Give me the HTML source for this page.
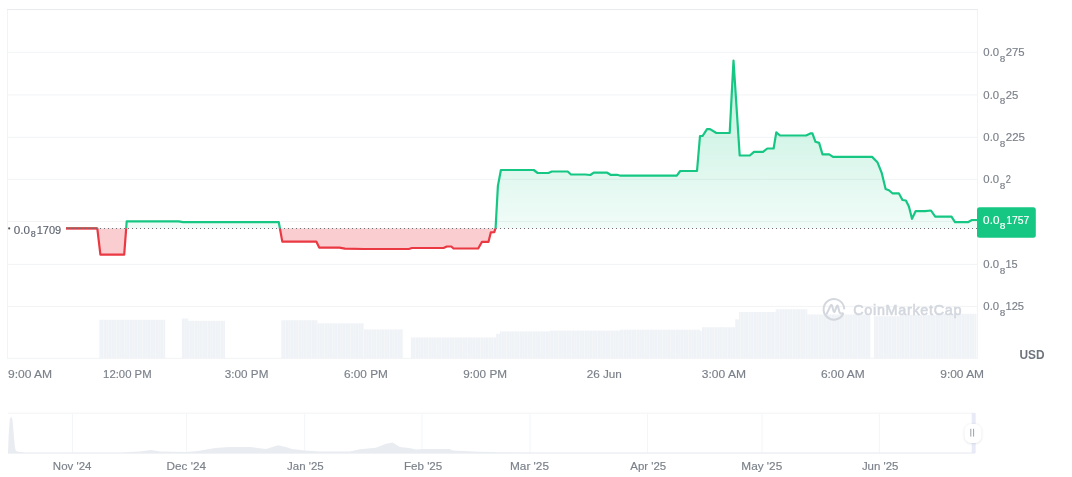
<!DOCTYPE html>
<html><head><meta charset="utf-8"><title>Chart</title>
<style>html,body{margin:0;padding:0;background:#fff;width:1072px;height:477px;overflow:hidden}svg{display:block}</style>
</head><body>
<svg width="1072" height="477" viewBox="0 0 1072 477" font-family="Liberation Sans, sans-serif">
<defs>
<linearGradient id="gg" x1="0" y1="60" x2="0" y2="228.3" gradientUnits="userSpaceOnUse"><stop offset="0" stop-color="#16c784" stop-opacity="0.28"/><stop offset="1" stop-color="#16c784" stop-opacity="0.06"/></linearGradient>
<clipPath id="cu"><rect x="0" y="0" width="1072" height="228.3"/></clipPath>
<clipPath id="cd"><rect x="0" y="228.3" width="1072" height="200"/></clipPath>
<pattern id="vp" x="0" y="0" width="2.6" height="10" patternUnits="userSpaceOnUse"><rect x="0" y="0" width="2.6" height="10" fill="#eff2f6"/><rect x="2.0" y="0" width="0.6" height="10" fill="#f7f8fa"/></pattern>
</defs>
<rect x="7.5" y="9.5" width="970" height="348.8" fill="none" stroke="#f1f3f5" stroke-width="1"/>
<line x1="7" y1="9.5" x2="978" y2="9.5" stroke="#e9ebee" stroke-width="1"/>
<line x1="8" y1="52.3" x2="977" y2="52.3" stroke="#f1f3f5" stroke-width="1"/>
<line x1="8" y1="94.9" x2="977" y2="94.9" stroke="#f1f3f5" stroke-width="1"/>
<line x1="8" y1="137.3" x2="977" y2="137.3" stroke="#f1f3f5" stroke-width="1"/>
<line x1="8" y1="179.3" x2="977" y2="179.3" stroke="#f1f3f5" stroke-width="1"/>
<line x1="8" y1="221.5" x2="977" y2="221.5" stroke="#f1f3f5" stroke-width="1"/>
<line x1="8" y1="264.4" x2="977" y2="264.4" stroke="#f1f3f5" stroke-width="1"/>
<line x1="8" y1="306.4" x2="977" y2="306.4" stroke="#f1f3f5" stroke-width="1"/>
<rect x="99.4" y="319.8" width="65.8" height="38.5" fill="url(#vp)"/>
<rect x="181.9" y="318.5" width="6.2" height="39.8" fill="url(#vp)"/>
<rect x="188.1" y="320.8" width="36.9" height="37.5" fill="url(#vp)"/>
<rect x="281.3" y="320.2" width="36.2" height="38.1" fill="url(#vp)"/>
<rect x="317.5" y="323.3" width="46.3" height="35.0" fill="url(#vp)"/>
<rect x="363.8" y="329.4" width="39.3" height="28.9" fill="url(#vp)"/>
<rect x="410.9" y="337.4" width="85.1" height="20.9" fill="url(#vp)"/>
<rect x="496" y="333.8" width="4.0" height="24.5" fill="url(#vp)"/>
<rect x="500" y="331.4" width="50.0" height="26.9" fill="url(#vp)"/>
<rect x="550" y="330.6" width="70.0" height="27.7" fill="url(#vp)"/>
<rect x="620" y="329.7" width="80.0" height="28.6" fill="url(#vp)"/>
<rect x="700" y="330.9" width="2.0" height="27.4" fill="url(#vp)"/>
<rect x="702" y="327.2" width="33.0" height="31.1" fill="url(#vp)"/>
<rect x="735" y="319.3" width="4.0" height="39.0" fill="url(#vp)"/>
<rect x="739" y="312" width="36.8" height="46.3" fill="url(#vp)"/>
<rect x="775.8" y="309.2" width="31.5" height="49.1" fill="url(#vp)"/>
<rect x="807.3" y="314.4" width="63.1" height="43.9" fill="url(#vp)"/>
<rect x="874" y="316.2" width="26.0" height="42.1" fill="url(#vp)"/>
<rect x="900" y="315" width="40.0" height="43.3" fill="url(#vp)"/>
<rect x="940" y="313.8" width="36.5" height="44.5" fill="url(#vp)"/>
<g opacity="1">
<path d="M843.2,313.8 A10.3,10.3 0 1 1 844.2,308.6" fill="none" stroke="#d3d7de" stroke-width="2" stroke-linecap="round"/>
<path d="M826.8,313.6 L830.6,305.6 Q831.3,304.4 832,305.6 L833.6,311.2 Q834.2,312.6 834.9,311.2 L836.8,306.2 Q837.4,305 838,306.2 L839.3,311.6 Q840.2,314.2 842.6,313.2" fill="none" stroke="#d3d7de" stroke-width="2" stroke-linejoin="round" stroke-linecap="round"/>
<text x="853.2" y="315.4" font-size="14.4" letter-spacing="0.7" fill="#d3d7de" stroke="#d3d7de" stroke-width="0.6">CoinMarketCap</text>
</g>
<path d="M66.0,228.3 L97.3,228.3 L100.4,254.6 L124.2,254.6 L126.7,221.4 L178.6,221.4 L183.0,222.2 L278.8,222.2 L282.3,241.6 L316.3,241.6 L319.2,247.6 L339.4,247.6 L345.0,248.7 L364.0,249.0 L408.8,249.0 L412.0,248.0 L443.5,248.0 L446.9,246.5 L451.3,246.5 L453.5,248.5 L478.2,248.5 L482.0,241.8 L488.5,241.8 L490.8,232.4 L494.3,232.2 L495.6,228.0 L497.9,185.9 L500.9,170.0 L533.7,170.0 L537.7,173.0 L548.4,173.0 L551.8,171.5 L567.7,171.5 L571.0,174.5 L585.3,174.5 L590.4,175.0 L593.7,172.7 L607.2,172.7 L610.5,174.8 L617.2,174.8 L620.6,175.7 L676.8,175.7 L680.2,171.0 L697.0,171.0 L700.0,136.0 L702.6,136.0 L707.0,129.1 L710.0,129.1 L716.4,133.0 L729.7,133.0 L733.5,60.6 L739.7,155.5 L749.8,155.5 L754.0,151.8 L763.0,151.8 L767.3,148.5 L773.6,148.5 L776.3,132.4 L780.0,135.5 L806.1,135.5 L810.3,133.4 L812.4,133.4 L815.5,141.8 L819.1,142.9 L822.5,154.4 L829.2,154.4 L833.0,156.9 L872.1,156.9 L877.4,162.2 L881.6,172.6 L885.6,189.0 L888.9,190.2 L892.4,193.3 L898.8,193.3 L902.5,200.0 L905.9,200.5 L908.9,206.5 L912.0,218.8 L915.7,211.1 L925.0,211.1 L931.0,210.5 L935.2,216.7 L951.5,216.7 L955.0,222.2 L967.9,222.2 L972.0,220.0 L977.0,220.0 L977.0,228.3 L66.0,228.3 Z" fill="url(#gg)" clip-path="url(#cu)"/>
<path d="M66.0,228.3 L97.3,228.3 L100.4,254.6 L124.2,254.6 L126.7,221.4 L178.6,221.4 L183.0,222.2 L278.8,222.2 L282.3,241.6 L316.3,241.6 L319.2,247.6 L339.4,247.6 L345.0,248.7 L364.0,249.0 L408.8,249.0 L412.0,248.0 L443.5,248.0 L446.9,246.5 L451.3,246.5 L453.5,248.5 L478.2,248.5 L482.0,241.8 L488.5,241.8 L490.8,232.4 L494.3,232.2 L495.6,228.0 L497.9,185.9 L500.9,170.0 L533.7,170.0 L537.7,173.0 L548.4,173.0 L551.8,171.5 L567.7,171.5 L571.0,174.5 L585.3,174.5 L590.4,175.0 L593.7,172.7 L607.2,172.7 L610.5,174.8 L617.2,174.8 L620.6,175.7 L676.8,175.7 L680.2,171.0 L697.0,171.0 L700.0,136.0 L702.6,136.0 L707.0,129.1 L710.0,129.1 L716.4,133.0 L729.7,133.0 L733.5,60.6 L739.7,155.5 L749.8,155.5 L754.0,151.8 L763.0,151.8 L767.3,148.5 L773.6,148.5 L776.3,132.4 L780.0,135.5 L806.1,135.5 L810.3,133.4 L812.4,133.4 L815.5,141.8 L819.1,142.9 L822.5,154.4 L829.2,154.4 L833.0,156.9 L872.1,156.9 L877.4,162.2 L881.6,172.6 L885.6,189.0 L888.9,190.2 L892.4,193.3 L898.8,193.3 L902.5,200.0 L905.9,200.5 L908.9,206.5 L912.0,218.8 L915.7,211.1 L925.0,211.1 L931.0,210.5 L935.2,216.7 L951.5,216.7 L955.0,222.2 L967.9,222.2 L972.0,220.0 L977.0,220.0 L977.0,228.3 L66.0,228.3 Z" fill="#ea3943" fill-opacity="0.25" clip-path="url(#cd)"/>
<path d="M66.0,228.3 L97.3,228.3 L100.4,254.6 L124.2,254.6 L126.7,221.4 L178.6,221.4 L183.0,222.2 L278.8,222.2 L282.3,241.6 L316.3,241.6 L319.2,247.6 L339.4,247.6 L345.0,248.7 L364.0,249.0 L408.8,249.0 L412.0,248.0 L443.5,248.0 L446.9,246.5 L451.3,246.5 L453.5,248.5 L478.2,248.5 L482.0,241.8 L488.5,241.8 L490.8,232.4 L494.3,232.2 L495.6,228.0 L497.9,185.9 L500.9,170.0 L533.7,170.0 L537.7,173.0 L548.4,173.0 L551.8,171.5 L567.7,171.5 L571.0,174.5 L585.3,174.5 L590.4,175.0 L593.7,172.7 L607.2,172.7 L610.5,174.8 L617.2,174.8 L620.6,175.7 L676.8,175.7 L680.2,171.0 L697.0,171.0 L700.0,136.0 L702.6,136.0 L707.0,129.1 L710.0,129.1 L716.4,133.0 L729.7,133.0 L733.5,60.6 L739.7,155.5 L749.8,155.5 L754.0,151.8 L763.0,151.8 L767.3,148.5 L773.6,148.5 L776.3,132.4 L780.0,135.5 L806.1,135.5 L810.3,133.4 L812.4,133.4 L815.5,141.8 L819.1,142.9 L822.5,154.4 L829.2,154.4 L833.0,156.9 L872.1,156.9 L877.4,162.2 L881.6,172.6 L885.6,189.0 L888.9,190.2 L892.4,193.3 L898.8,193.3 L902.5,200.0 L905.9,200.5 L908.9,206.5 L912.0,218.8 L915.7,211.1 L925.0,211.1 L931.0,210.5 L935.2,216.7 L951.5,216.7 L955.0,222.2 L967.9,222.2 L972.0,220.0 L977.0,220.0" fill="none" stroke="#16c784" stroke-width="2.2" stroke-linejoin="round" clip-path="url(#cu)"/>
<path d="M66.0,228.3 L97.3,228.3 L100.4,254.6 L124.2,254.6 L126.7,221.4 L178.6,221.4 L183.0,222.2 L278.8,222.2 L282.3,241.6 L316.3,241.6 L319.2,247.6 L339.4,247.6 L345.0,248.7 L364.0,249.0 L408.8,249.0 L412.0,248.0 L443.5,248.0 L446.9,246.5 L451.3,246.5 L453.5,248.5 L478.2,248.5 L482.0,241.8 L488.5,241.8 L490.8,232.4 L494.3,232.2 L495.6,228.0 L497.9,185.9 L500.9,170.0 L533.7,170.0 L537.7,173.0 L548.4,173.0 L551.8,171.5 L567.7,171.5 L571.0,174.5 L585.3,174.5 L590.4,175.0 L593.7,172.7 L607.2,172.7 L610.5,174.8 L617.2,174.8 L620.6,175.7 L676.8,175.7 L680.2,171.0 L697.0,171.0 L700.0,136.0 L702.6,136.0 L707.0,129.1 L710.0,129.1 L716.4,133.0 L729.7,133.0 L733.5,60.6 L739.7,155.5 L749.8,155.5 L754.0,151.8 L763.0,151.8 L767.3,148.5 L773.6,148.5 L776.3,132.4 L780.0,135.5 L806.1,135.5 L810.3,133.4 L812.4,133.4 L815.5,141.8 L819.1,142.9 L822.5,154.4 L829.2,154.4 L833.0,156.9 L872.1,156.9 L877.4,162.2 L881.6,172.6 L885.6,189.0 L888.9,190.2 L892.4,193.3 L898.8,193.3 L902.5,200.0 L905.9,200.5 L908.9,206.5 L912.0,218.8 L915.7,211.1 L925.0,211.1 L931.0,210.5 L935.2,216.7 L951.5,216.7 L955.0,222.2 L967.9,222.2 L972.0,220.0 L977.0,220.0" fill="none" stroke="#ea3943" stroke-width="2.2" stroke-linejoin="round" clip-path="url(#cd)"/>
<line x1="66" y1="228.3" x2="97.3" y2="228.3" stroke="#ea3943" stroke-width="2"/>
<line x1="68" y1="228.5" x2="977" y2="228.5" stroke="#6c6f76" stroke-width="1" stroke-dasharray="1 3"/>
<circle cx="9.2" cy="228.4" r="1.1" fill="#55585f"/>
<text x="13.84" y="233.7" font-size="11" fill="#5f6570" textLength="16.21" lengthAdjust="spacingAndGlyphs" stroke="#5f6570" stroke-width="0.15">0.0</text>
<text x="30.81" y="236.9" font-size="8.6" fill="#5f6570" textLength="4.98" lengthAdjust="spacingAndGlyphs" stroke="#5f6570" stroke-width="0.15">8</text>
<text x="36.66" y="233.7" font-size="11" fill="#5f6570" textLength="24.56" lengthAdjust="spacingAndGlyphs" stroke="#5f6570" stroke-width="0.15">1709</text>
<text x="983.36" y="55.9" font-size="11" fill="#7b808a" textLength="15.79" lengthAdjust="spacingAndGlyphs" stroke="#7b808a" stroke-width="0.15">0.0</text>
<text x="999.86" y="61.8" font-size="9.6" fill="#7b808a" textLength="5.57" lengthAdjust="spacingAndGlyphs" stroke="#7b808a" stroke-width="0.15">8</text>
<text x="1005.73" y="55.9" font-size="11" fill="#7b808a" textLength="18.95" lengthAdjust="spacingAndGlyphs" stroke="#7b808a" stroke-width="0.15">275</text>
<text x="983.36" y="98.5" font-size="11" fill="#7b808a" textLength="15.79" lengthAdjust="spacingAndGlyphs" stroke="#7b808a" stroke-width="0.15">0.0</text>
<text x="999.86" y="104.4" font-size="9.6" fill="#7b808a" textLength="5.57" lengthAdjust="spacingAndGlyphs" stroke="#7b808a" stroke-width="0.15">8</text>
<text x="1005.73" y="98.5" font-size="11" fill="#7b808a" textLength="12.65" lengthAdjust="spacingAndGlyphs" stroke="#7b808a" stroke-width="0.15">25</text>
<text x="983.36" y="140.9" font-size="11" fill="#7b808a" textLength="15.79" lengthAdjust="spacingAndGlyphs" stroke="#7b808a" stroke-width="0.15">0.0</text>
<text x="999.86" y="146.8" font-size="9.6" fill="#7b808a" textLength="5.57" lengthAdjust="spacingAndGlyphs" stroke="#7b808a" stroke-width="0.15">8</text>
<text x="1005.72" y="140.9" font-size="11" fill="#7b808a" textLength="19.27" lengthAdjust="spacingAndGlyphs" stroke="#7b808a" stroke-width="0.15">225</text>
<text x="983.36" y="182.9" font-size="11" fill="#7b808a" textLength="15.79" lengthAdjust="spacingAndGlyphs" stroke="#7b808a" stroke-width="0.15">0.0</text>
<text x="999.86" y="188.8" font-size="9.6" fill="#7b808a" textLength="5.57" lengthAdjust="spacingAndGlyphs" stroke="#7b808a" stroke-width="0.15">8</text>
<text x="1005.84" y="182.9" font-size="11" fill="#7b808a" textLength="5.13" lengthAdjust="spacingAndGlyphs" stroke="#7b808a" stroke-width="0.15">2</text>
<text x="983.36" y="268.0" font-size="11" fill="#7b808a" textLength="15.79" lengthAdjust="spacingAndGlyphs" stroke="#7b808a" stroke-width="0.15">0.0</text>
<text x="999.86" y="273.9" font-size="9.6" fill="#7b808a" textLength="5.57" lengthAdjust="spacingAndGlyphs" stroke="#7b808a" stroke-width="0.15">8</text>
<text x="1005.47" y="268.0" font-size="11" fill="#7b808a" textLength="12.18" lengthAdjust="spacingAndGlyphs" stroke="#7b808a" stroke-width="0.15">15</text>
<text x="983.36" y="310.0" font-size="11" fill="#7b808a" textLength="15.79" lengthAdjust="spacingAndGlyphs" stroke="#7b808a" stroke-width="0.15">0.0</text>
<text x="999.86" y="315.9" font-size="9.6" fill="#7b808a" textLength="5.57" lengthAdjust="spacingAndGlyphs" stroke="#7b808a" stroke-width="0.15">8</text>
<text x="1005.45" y="310.0" font-size="11" fill="#7b808a" textLength="18.62" lengthAdjust="spacingAndGlyphs" stroke="#7b808a" stroke-width="0.15">125</text>
<rect x="977" y="207.2" width="58.8" height="30.5" rx="2.5" fill="#16c784"/>
<text x="983.14" y="223.9" font-size="11" fill="#fff" textLength="16.32" lengthAdjust="spacingAndGlyphs" stroke="#fff" stroke-width="0.15">0.0</text>
<text x="999.76" y="229.4" font-size="9.6" fill="#fff" textLength="5.69" lengthAdjust="spacingAndGlyphs" stroke="#fff" stroke-width="0.15">8</text>
<text x="1006.31" y="223.9" font-size="11" fill="#fff" textLength="23.11" lengthAdjust="spacingAndGlyphs" stroke="#fff" stroke-width="0.15">1757</text>
<text x="1019.39" y="358.9" font-size="12.4" font-weight="bold" fill="#6e737c" textLength="25.11" lengthAdjust="spacingAndGlyphs">USD</text>
<text x="7.94" y="377.9" font-size="11" fill="#7b808a" textLength="44.23" lengthAdjust="spacingAndGlyphs" stroke="#7b808a" stroke-width="0.15">9:00 AM</text>
<text x="103.14" y="377.9" font-size="11" fill="#7b808a" textLength="48.49" lengthAdjust="spacingAndGlyphs" stroke="#7b808a" stroke-width="0.15">12:00 PM</text>
<text x="224.86" y="377.9" font-size="11" fill="#7b808a" textLength="43.50" lengthAdjust="spacingAndGlyphs" stroke="#7b808a" stroke-width="0.15">3:00 PM</text>
<text x="344.00" y="377.9" font-size="11" fill="#7b808a" textLength="43.86" lengthAdjust="spacingAndGlyphs" stroke="#7b808a" stroke-width="0.15">6:00 PM</text>
<text x="463.35" y="377.9" font-size="11" fill="#7b808a" textLength="43.61" lengthAdjust="spacingAndGlyphs" stroke="#7b808a" stroke-width="0.15">9:00 PM</text>
<text x="586.71" y="377.9" font-size="11" fill="#7b808a" textLength="35.15" lengthAdjust="spacingAndGlyphs" stroke="#7b808a" stroke-width="0.15">26 Jun</text>
<text x="701.85" y="377.9" font-size="11" fill="#7b808a" textLength="44.12" lengthAdjust="spacingAndGlyphs" stroke="#7b808a" stroke-width="0.15">3:00 AM</text>
<text x="820.90" y="377.9" font-size="11" fill="#7b808a" textLength="43.86" lengthAdjust="spacingAndGlyphs" stroke="#7b808a" stroke-width="0.15">6:00 AM</text>
<text x="940.25" y="377.9" font-size="11" fill="#7b808a" textLength="43.82" lengthAdjust="spacingAndGlyphs" stroke="#7b808a" stroke-width="0.15">9:00 AM</text>
<line x1="8" y1="413.2" x2="975" y2="413.2" stroke="#f1f3f5" stroke-width="1"/>
<line x1="8" y1="453.3" x2="975" y2="453.3" stroke="#f1f3f5" stroke-width="1"/>
<line x1="72.5" y1="413.5" x2="72.5" y2="453" stroke="#f4f5f7" stroke-width="1"/>
<line x1="186.5" y1="413.5" x2="186.5" y2="453" stroke="#f4f5f7" stroke-width="1"/>
<line x1="304.6" y1="413.5" x2="304.6" y2="453" stroke="#f4f5f7" stroke-width="1"/>
<line x1="422" y1="413.5" x2="422" y2="453" stroke="#f4f5f7" stroke-width="1"/>
<line x1="530" y1="413.5" x2="530" y2="453" stroke="#f4f5f7" stroke-width="1"/>
<line x1="647.5" y1="413.5" x2="647.5" y2="453" stroke="#f4f5f7" stroke-width="1"/>
<line x1="762" y1="413.5" x2="762" y2="453" stroke="#f4f5f7" stroke-width="1"/>
<line x1="879.4" y1="413.5" x2="879.4" y2="453" stroke="#f4f5f7" stroke-width="1"/>
<text x="52.86" y="470.2" font-size="11" fill="#7b808a" textLength="38.58" lengthAdjust="spacingAndGlyphs" stroke="#7b808a" stroke-width="0.15">Nov &#39;24</text>
<text x="166.64" y="470.2" font-size="11" fill="#7b808a" textLength="39.41" lengthAdjust="spacingAndGlyphs" stroke="#7b808a" stroke-width="0.15">Dec &#39;24</text>
<text x="287.02" y="470.2" font-size="11" fill="#7b808a" textLength="36.66" lengthAdjust="spacingAndGlyphs" stroke="#7b808a" stroke-width="0.15">Jan &#39;25</text>
<text x="403.95" y="470.2" font-size="11" fill="#7b808a" textLength="38.34" lengthAdjust="spacingAndGlyphs" stroke="#7b808a" stroke-width="0.15">Feb &#39;25</text>
<text x="510.03" y="470.2" font-size="11" fill="#7b808a" textLength="38.96" lengthAdjust="spacingAndGlyphs" stroke="#7b808a" stroke-width="0.15">Mar &#39;25</text>
<text x="630.28" y="470.2" font-size="11" fill="#7b808a" textLength="35.90" lengthAdjust="spacingAndGlyphs" stroke="#7b808a" stroke-width="0.15">Apr &#39;25</text>
<text x="741.33" y="470.2" font-size="11" fill="#7b808a" textLength="40.86" lengthAdjust="spacingAndGlyphs" stroke="#7b808a" stroke-width="0.15">May &#39;25</text>
<text x="861.92" y="470.2" font-size="11" fill="#7b808a" textLength="36.46" lengthAdjust="spacingAndGlyphs" stroke="#7b808a" stroke-width="0.15">Jun &#39;25</text>
<path d="M8,453 L8.6,436 L9.8,419 L11.2,416.5 L12.4,419 L13.6,432 L14.8,446 L15.8,450.8 L18,451.8 L26,452.4 L60,452.5 L120,452.5 L140,451.5 L151,450 L160,451.5 L186,452 L198,451 L215,448 L229.7,446.9 L250.5,447 L266,449 L278,445.3 L286,447 L292,449 L304.6,450.5 L320,451.5 L349.8,451.5 L360,449.3 L375.9,447.8 L386,443.7 L392.6,442.4 L400,447 L404.8,447.4 L410.4,448.3 L416,449.6 L423,448.9 L449.5,448.9 L453,450.6 L479,451.7 L500,452.2 L540,452.5 L975,452.6 L975,453.3 L8,453.3 Z" fill="#e9ecf1"/>
<rect x="971.7" y="413" width="4" height="40" fill="#e8eaf8"/>
<defs><filter id="sh" x="-50%" y="-50%" width="200%" height="200%"><feDropShadow dx="0" dy="0.5" stdDeviation="1.2" flood-color="#8a94a6" flood-opacity="0.35"/></filter></defs>
<rect x="964.5" y="424" width="17" height="19" rx="6.5" fill="#fff" filter="url(#sh)"/>
<line x1="970.8" y1="428.8" x2="970.8" y2="436.6" stroke="#8f96a2" stroke-width="0.9"/>
<line x1="973.6" y1="428.8" x2="973.6" y2="436.6" stroke="#8f96a2" stroke-width="0.9"/>
</svg>
</body></html>
